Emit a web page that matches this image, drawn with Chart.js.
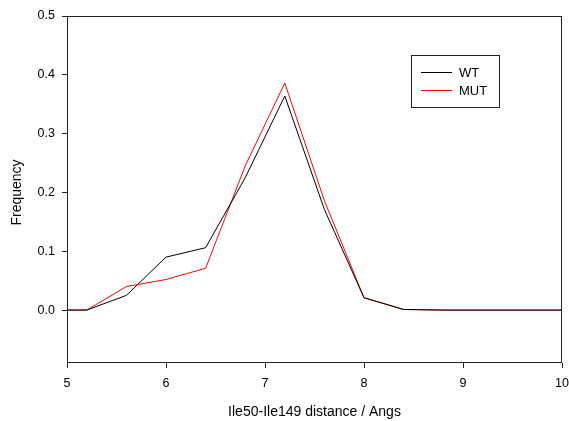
<!DOCTYPE html>
<html>
<head>
<meta charset="utf-8">
<script src="https://cdn.jsdelivr.net/npm/chart.js@4/dist/chart.umd.min.js"></script>
<style>
html,body{margin:0;padding:0;background:#fff;}
#wrap{width:569px;height:421px;position:relative;}
</style>
</head>
<body>
<div id="wrap"><canvas id="c" width="569" height="421"></canvas></div>
<script>
const distances = [5.0, 5.2, 5.6, 6.0, 6.4, 6.8, 7.2, 7.6, 8.0, 8.4, 8.8, 9.2, 9.6, 10.0];
const wtFreq  = [0.0, 0.0, 0.025, 0.090, 0.106, 0.225, 0.364, 0.171, 0.021, 0.001, 0.0, 0.0, 0.0, 0.0];
const mutFreq = [0.0, 0.0, 0.040, 0.052, 0.071, 0.245, 0.386, 0.186, 0.021, 0.001, 0.0, 0.0, 0.0, 0.0];
const seriesNames = ['WT', 'MUT'];
const yTickValues = [0.0, 0.1, 0.2, 0.3, 0.4, 0.5];
const xTickValues = [5, 6, 7, 8, 9, 10];
const xTitle = 'Ile50-Ile149 distance / Angs';
const yTitle = 'Frequency';

const FONT = '"Liberation Sans", Arial, sans-serif';
const toPts = ys => distances.map((x, i) => ({x: x, y: ys[i]}));

const framePlugin = {
  id: 'frame',
  afterDraw(chart) {
    const {ctx, chartArea: a} = chart;
    ctx.save();
    ctx.strokeStyle = '#222';
    ctx.lineWidth = 1;
    ctx.strokeRect(Math.round(a.left) + 0.5, Math.round(a.top) + 0.5,
                   Math.round(a.right - a.left) - 1, Math.round(a.bottom - a.top) - 1);
    // titles
    ctx.fillStyle = '#000';
    ctx.font = '14px ' + FONT;
    ctx.textAlign = 'center';
    ctx.textBaseline = 'middle';
    ctx.fillText(xTitle, (a.left + a.right) / 2, 412);
    ctx.save();
    ctx.translate(17, (a.top + a.bottom) / 2 + 3);
    ctx.rotate(-Math.PI / 2);
    ctx.fillText(yTitle, 0, 0);
    ctx.restore();
    // legend
    const bx = 411.5, by = 55.5, bw = 88, bh = 52;
    ctx.strokeStyle = '#222';
    ctx.strokeRect(bx, by, bw, bh);
    ctx.font = '13px ' + FONT;
    ctx.textAlign = 'left';
    chart.data.datasets.forEach((ds, i) => {
      const yy = 72 + i * 18;
      ctx.strokeStyle = ds.borderColor;
      ctx.beginPath();
      ctx.moveTo(421, yy + 0.5);
      ctx.lineTo(452, yy + 0.5);
      ctx.stroke();
      ctx.fillStyle = '#000';
      ctx.fillText(ds.label, 459, yy + 1);
    });
    ctx.restore();
  }
};

new Chart(document.getElementById('c'), {
  type: 'scatter',
  data: {
    datasets: [
      {label: seriesNames[0], data: toPts(wtFreq), borderColor: '#000000', backgroundColor: '#000000',
       showLine: true, pointRadius: 0, borderWidth: 1, tension: 0},
      {label: seriesNames[1], data: toPts(mutFreq), borderColor: '#ff0000', backgroundColor: '#ff0000',
       showLine: true, pointRadius: 0, borderWidth: 1, tension: 0}
    ]
  },
  options: {
    responsive: false,
    animation: false,
    layout: {padding: {top: 16, right: 7, left: 0, bottom: 0}},
    plugins: {legend: {display: false}, tooltip: {enabled: false}},
    scales: {
      x: {
        type: 'linear', min: 5, max: 10,
        afterBuildTicks: s => { s.ticks = xTickValues.map(v => ({value: v})); },
        afterFit: s => { s.height = 58; s.paddingLeft = 0; s.paddingRight = 0; },
        grid: {drawOnChartArea: false, drawTicks: true, tickLength: 5, color: '#222'},
        border: {display: false},
        ticks: {color: '#000', font: {family: FONT, size: 12.5}, padding: 8, maxRotation: 0,
                callback: v => String(v)}
      },
      y: {
        type: 'linear', min: -0.09, max: 0.5,
        afterBuildTicks: s => { s.ticks = yTickValues.map(v => ({value: v})); },
        afterFit: s => { s.width = 67; s.paddingTop = 0; s.paddingBottom = 0; },
        grid: {drawOnChartArea: false, drawTicks: true, tickLength: 5, color: '#222'},
        border: {display: false},
        ticks: {color: '#000', font: {family: FONT, size: 12.5}, padding: 7,
                callback: v => Number(v).toFixed(1)}
      }
    }
  },
  plugins: [framePlugin]
});
</script>
</body>
</html>
